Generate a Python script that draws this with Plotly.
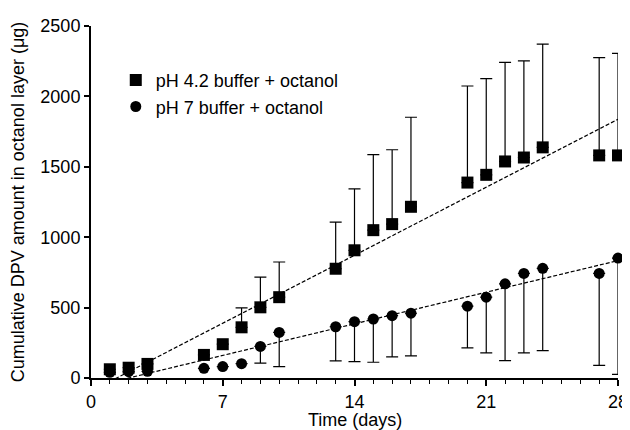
import numpy as np
import plotly.graph_objects as go

days = [1, 2, 3, 6, 7, 8, 9, 10, 13, 14, 15, 16, 17, 20, 21, 22, 23, 24, 27, 28]

ph42_mean = [62, 73, 100, 164, 240, 360, 502, 574, 776, 907, 1050, 1093, 1216,
             1388, 1443, 1538, 1566, 1638, 1581, 1581]
ph42_upper = [0, 0, 0, 0, 0, 498, 716, 824, 1107, 1343, 1586, 1621, 1852,
              2074, 2126, 2241, 2252, 2371, 2276, 2305]

ph7_mean = [40, 45, 48, 69, 81, 102, 224, 324, 364, 400, 419, 443, 460,
            510, 574, 669, 743, 779, 743, 852]
ph7_lower = [40, 45, 48, 69, 81, 102, 105, 81, 121, 117, 112, 150, 157,
             214, 179, 124, 179, 195, 90, 26]

x_ticks = [0, 7, 14, 21, 28]
y_ticks = [0, 500, 1000, 1500, 2000, 2500]

name42 = "pH 4.2 buffer + octanol"
name7 = "pH 7 buffer + octanol"
x_title = "Time (days)"
y_title = "Cumulative DPV amount in octanol layer (μg)"

FONT = "Liberation Sans, Arial, Helvetica, sans-serif"

up42 = [max(u - m, 0) for u, m in zip(ph42_upper, ph42_mean)]
down7 = [max(m - l, 0) for m, l in zip(ph7_mean, ph7_lower)]

d = np.array(days, dtype=float)
fit42 = np.polyfit(d, np.array(ph42_mean, dtype=float), 1)
fit7 = np.polyfit(d, np.array(ph7_mean, dtype=float), 1)
fx = [days[0], days[-1]]

fig = go.Figure()

fig.add_trace(go.Scatter(
    x=fx, y=list(np.polyval(fit42, fx)), mode="lines",
    line=dict(color="black", width=1.2, dash="4px,2px"),
    showlegend=False, hoverinfo="skip"))
fig.add_trace(go.Scatter(
    x=fx, y=list(np.polyval(fit7, fx)), mode="lines",
    line=dict(color="black", width=1.2, dash="4px,2px"),
    showlegend=False, hoverinfo="skip"))

fig.add_trace(go.Scatter(
    x=days, y=ph7_mean, mode="markers", name=name7,
    marker=dict(symbol="circle", size=11, color="black", line=dict(width=0)),
    error_y=dict(type="data", symmetric=False, array=[0] * len(days),
                 arrayminus=down7, color="black", thickness=1.2, width=6),
    cliponaxis=False))
fig.add_trace(go.Scatter(
    x=days, y=ph42_mean, mode="markers", name=name42,
    marker=dict(symbol="square", size=12, color="black", line=dict(width=0)),
    error_y=dict(type="data", symmetric=False, array=up42,
                 arrayminus=[0] * len(days), color="black", thickness=1.2, width=6),
    cliponaxis=False))

fig.add_annotation(
    text=x_title, xref="paper", yref="paper", x=0.5, y=-0.1179,
    xanchor="center", yanchor="middle", showarrow=False, borderpad=0,
    font=dict(size=18, family=FONT, color="black"))

fig.update_layout(
    width=630, height=430,
    margin=dict(l=83, r=20, t=18, b=60, autoexpand=False),
    paper_bgcolor="white", plot_bgcolor="white",
    font=dict(family=FONT, size=18, color="black"),
    showlegend=True,
    legend=dict(x=0.047, y=0.898, xanchor="left", yanchor="top",
                traceorder="reversed", font=dict(size=18, family=FONT),
                bgcolor="rgba(0,0,0,0)", itemwidth=30, tracegroupgap=0),
    xaxis=dict(range=[0, 28], tickvals=x_ticks, ticktext=[str(v) for v in x_ticks],
               showline=True, linecolor="black", linewidth=2,
               ticks="outside", ticklen=6, tickwidth=1.5, tickcolor="black",
               showgrid=False, zeroline=False, automargin=False,
               minor=dict(dtick=1, tick0=0, ticks="outside", ticklen=4,
                          tickwidth=1.2, tickcolor="black", showgrid=False),
               tickfont=dict(size=18)),
    yaxis=dict(range=[0, 2500], tickvals=y_ticks, ticktext=[str(v) for v in y_ticks],
               showline=True, linecolor="black", linewidth=2,
               ticks="outside", ticklen=5, tickwidth=1.5, tickcolor="black",
               showgrid=False, zeroline=False, automargin=False,
               title=dict(text=y_title, font=dict(size=18), standoff=12),
               tickfont=dict(size=18)),
)

fig.write_html("out.html")
